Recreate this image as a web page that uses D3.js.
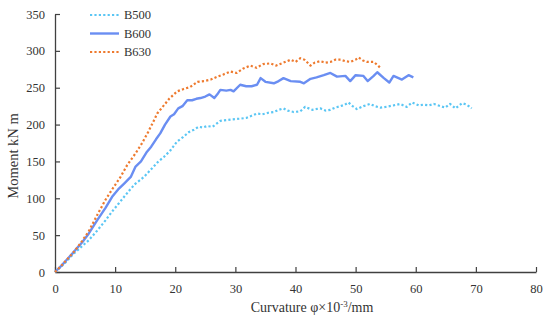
<!DOCTYPE html>
<html><head><meta charset="utf-8">
<script src="https://cdn.jsdelivr.net/npm/d3@7"></script>
<style>
body{margin:0;background:#fff;}
text{font-family:"Liberation Serif","Times New Roman",serif;}
</style></head>
<body><svg id="c" width="550" height="322"></svg>
<script>
const seriesNames = ["B500","B600","B630"];
const seriesColors = ["#5BC6F4","#6A8EF2","#EE7A2E"];
const xTicks = [0,10,20,30,40,50,60,70,80];
const yTicks = [0,50,100,150,200,250,300,350];

const b500X = [0,1,2,3,3.4,4.5,5.6,7,8.4,9.5,10.5,11.5,12.5,13.4,14.2,14.8,15.6,16.4,17.2,18.1,19.2,20.3,21.3,22.3,23.1,23.9,24.6,25.3,26.2,27.5,28.5,29.5,30.8,31.8,32.7,33.6,34.5,35.5,36.4,37.2,38,38.7,39.7,40.8,41.6,42.8,44.1,45,45.8,46.6,47.5,48.2,48.8,49.5,50.2,51.3,52.4,53.2,54.1,55,56.3,57.4,58.5,59.4,60.5,61.3,62.2,63,64.1,64.9,65.7,66.6,67.7,68.5,69.3];
const b500Y = [0,7,15,24,27,35,43,56,70,82,92,102,112,120,125,129,136,143,150,156,165,177,183,190,193,197,196,198,197,205,206,207,208,209,212,215,214,216,217,220,222,219,217,218,224,220,222,219,220,223,225,227,230,225,221,225,228,225,223,224,226,228,224,230,226,227,226,228,225,223,228,222,229,227,222];

const b600X = [0,1,2,3,3.4,4.5,5.6,7,8.4,9.5,10.5,11.5,12.6,13.4,14.3,15.2,16,16.8,17.5,18.3,19.2,19.8,20.5,21.2,22,22.8,23.5,24.2,25,25.7,26.5,27,27.5,28.5,29.2,29.7,30.8,31.8,32.7,33.6,34.2,35,36.4,37.2,38,39.2,40.8,41.4,42.5,43.5,44.7,45.8,46.9,48.3,49.1,50,51.3,52,53,53.6,54.7,55.6,56.3,57.7,58.8,59.6];
const b600Y = [0,8,17,26,30,40,52,70,87,102,112,120,129,143,150,162,170,180,188,200,211,214,222,225,233,233,235,236,238,241,236,241,247,246,247,245,254,252,252,254,263,258,256,259,263,259,258,256,262,264,267,270,265,266,259,267,266,259,266,271,263,257,266,261,267,264];

const b630X = [0,1,2,3,3.4,4.5,5.6,7,8.4,9.5,10.9,12,13.4,14.5,15.5,16.3,17,18,19,20.3,21.3,22.5,23.7,24.8,25.9,27,28,29.2,30.2,31.3,32.5,33.5,34.6,35.8,36.8,38,39.2,40,40.8,41.5,42.5,43.2,44.1,45,45.8,46.6,47.5,48.3,49.1,50,50.5,51.2,51.9,53,53.6,54.1];
const b630Y = [0,8,17,26,30,42,55,77,98,112,129,145,161,175,190,203,215,225,235,245,248,251,258,259,261,265,268,272,270,276,280,277,282,283,280,284,288,285,290,288,280,284,286,284,285,288,288,286,285,288,291,287,285,285,281,277];

const seriesX = [b500X,b600X,b630X];
const seriesY = [b500Y,b600Y,b630Y];
const dashes = ["2.2,2.2",null,"2.2,2.2"];

const svg = d3.select("#c");
const x = d3.scaleLinear().domain([0,80]).range([55,536]);
const y = d3.scaleLinear().domain([0,350]).range([272,14]);

const axisColor = "#404040";
const gx = svg.append("g").attr("transform","translate(0,272)")
  .call(d3.axisBottom(x).tickValues(xTicks).tickSizeInner(-5).tickSizeOuter(0).tickPadding(12));
const gy = svg.append("g").attr("transform","translate(55,0)")
  .call(d3.axisLeft(y).tickValues(yTicks).tickSizeInner(-5).tickSizeOuter(0).tickPadding(10));
[gx,gy].forEach(g=>{
  g.select(".domain").attr("stroke",axisColor).attr("stroke-width",1.3);
  g.selectAll(".tick line").attr("stroke",axisColor).attr("stroke-width",1.2);
  g.selectAll(".tick text").attr("fill","#333").style("font-size","12.5px").style("font-family","Liberation Serif, serif");
});

const line = d3.line().x(d=>x(d[0])).y(d=>y(d[1]));
seriesNames.forEach((n,i)=>{
  const pts = seriesX[i].map((v,j)=>[v,seriesY[i][j]]);
  const p = svg.append("path").datum(pts).attr("d",line)
    .attr("fill","none").attr("stroke",seriesColors[i])
    .attr("stroke-width", i===1?2.4:2.2).attr("stroke-linejoin","round");
  if(dashes[i]) p.attr("stroke-dasharray",dashes[i]);
});

// legend
const legY = [15,33.5,52];
seriesNames.forEach((n,i)=>{
  const l = svg.append("line").attr("x1",90).attr("x2",119).attr("y1",legY[i]).attr("y2",legY[i])
    .attr("stroke",seriesColors[i]).attr("stroke-width", i===1?2.4:2.2);
  if(dashes[i]) l.attr("stroke-dasharray",dashes[i]);
  svg.append("text").attr("x",124).attr("y",legY[i]+4.4).text(n)
    .attr("fill","#333").style("font-size","12.5px");
});

// axis titles
const xt = svg.append("text").attr("x",312).attr("y",312).attr("text-anchor","middle")
  .attr("fill","#333").style("font-size","14px");
xt.append("tspan").text("Curvature φ×10");
xt.append("tspan").attr("dy",-5).style("font-size","9px").text("-3");
xt.append("tspan").attr("dy",5).text("/mm");

svg.append("text").attr("transform","translate(18,156) rotate(-90)").attr("text-anchor","middle")
  .attr("fill","#333").style("font-size","14.5px").text("Moment kN m");
</script></body></html>
